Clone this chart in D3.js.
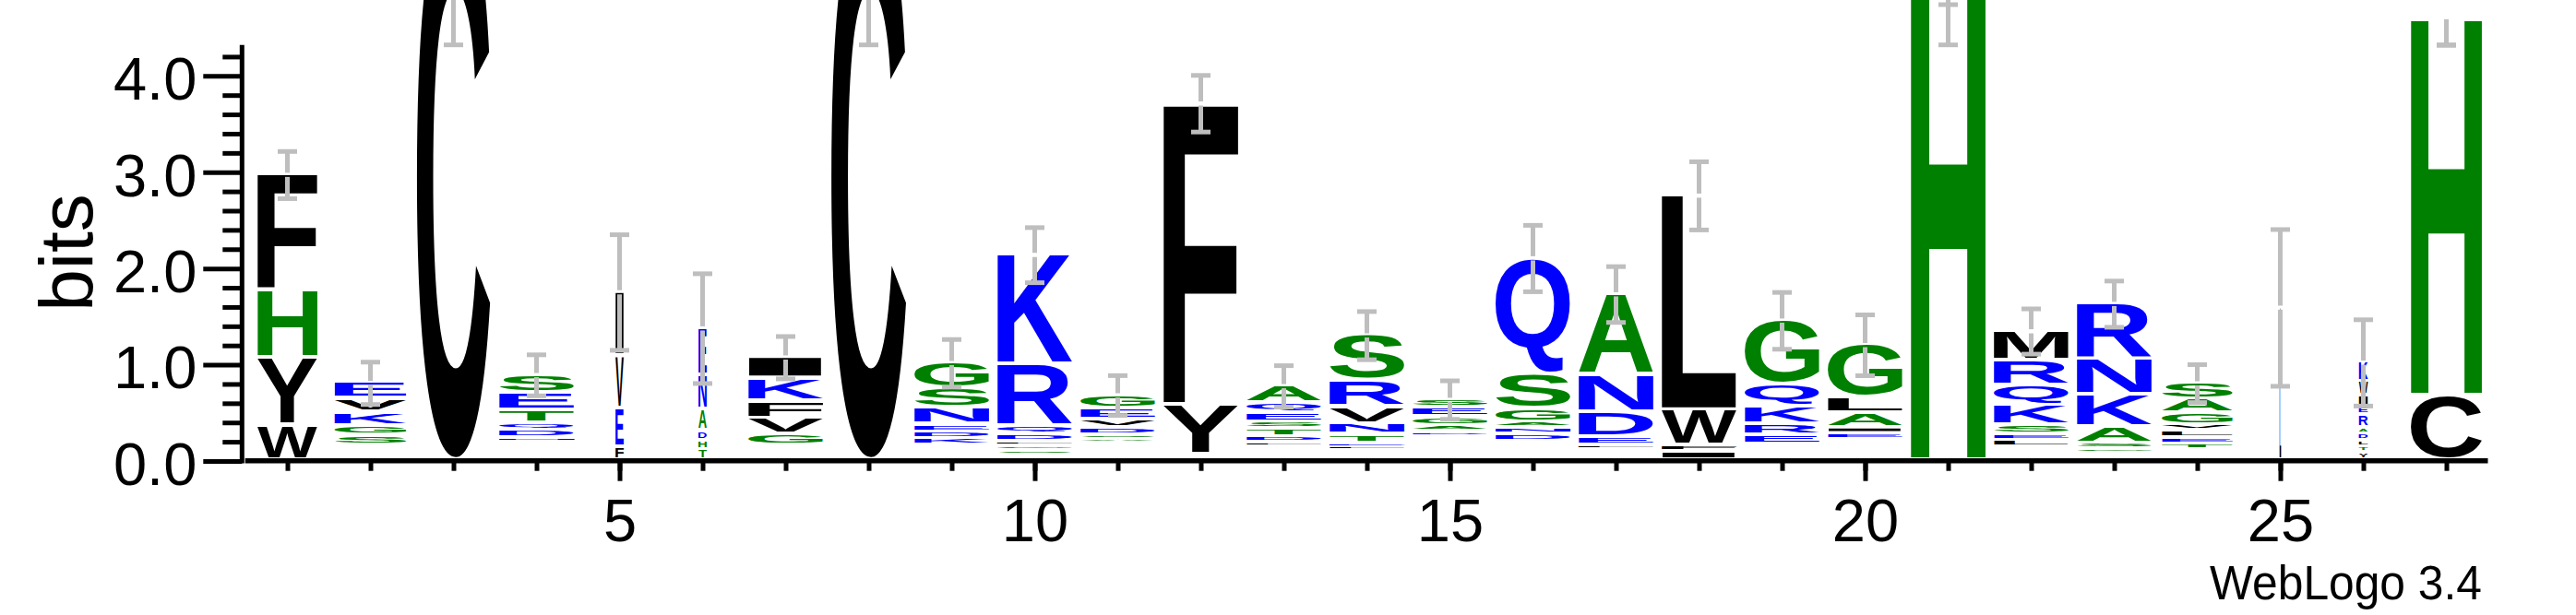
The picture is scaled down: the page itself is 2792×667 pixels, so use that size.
<!DOCTYPE html>
<html>
<head>
<meta charset="utf-8">
<script src="https://cdn.jsdelivr.net/npm/d3@7"></script>
<style>
body { margin: 0; background: #fff; }
text { font-family: "Liberation Sans", Arial, Helvetica, sans-serif; }
</style>
</head>
<body>
<svg id="logo" width="2792" height="667"></svg>
<script>
// sequence positions 1..27
var positions = d3.range(1, 28);

// letters of each stack, read top to bottom
var stackLetters = ["FHYW", "EVKGS", "C", "SETQDN", "IVEF", "ENADHT", "IKFVG", "C",
  "GSNEDK", "KRQDLGS", "GEVDSA", "FY", "AQESTDL", "SRVNTEL", "SEGAD", "QSGAND",
  "ANDEL", "LWFI", "GQKRE", "GLAIE", "H", "MRQKSEL", "RNKASG", "SAGVLET", "GL",
  "KWIERADLTY", "HC"];

// height of each letter in bits (same order)
var stackBits = [
  [1.21, 0.70, 0.70, 0.36],
  [0.17, 0.14, 0.14, 0.096, 0.105],
  [5.82],
  [0.19, 0.185, 0.135, 0.065, 0.085, 0.04],
  [0.67, 0.54, 0.41, 0.13],
  [0.49, 0.36, 0.22, 0.10, 0.10, 0.105],
  [0.224, 0.236, 0.178, 0.167, 0.115],
  [5.82],
  [0.273, 0.196, 0.176, 0.079, 0.069, 0.069],
  [1.146, 0.638, 0.09, 0.07, 0.048, 0.055, 0.048],
  [0.144, 0.112, 0.089, 0.074, 0.038, 0.048],
  [3.137, 0.517],
  [0.182, 0.102, 0.096, 0.074, 0.08, 0.057, 0.04],
  [0.479, 0.271, 0.176, 0.111, 0.09, 0.034, 0.045],
  [0.089, 0.096, 0.09, 0.063, 0.055],
  [1.213, 0.36, 0.138, 0.057, 0.067, 0.074],
  [0.843, 0.388, 0.263, 0.08, 0.05],
  [2.234, 0.367, 0.067, 0.086],
  [0.672, 0.224, 0.19, 0.11, 0.10],
  [0.551, 0.163, 0.15, 0.065, 0.058],
  [5.14],
  [0.306, 0.263, 0.205, 0.204, 0.099, 0.064, 0.07],
  [0.582, 0.368, 0.333, 0.174, 0.057, 0.048],
  [0.172, 0.144, 0.122, 0.06, 0.077, 0.067, 0.057],
  [0.795, 0.795],
  [0.205, 0.144, 0.112, 0.086, 0.137, 0.064, 0.07, 0.067, 0.06, 0.074],
  [3.937, 0.67]
];

// bits taken by the many tiny letters at the foot of a stack (too small to see)
var blankBits = [0, 0.156, 0, 0.19, 0, 0, 0.153, 0, 0.153, 0.043, 0.175, 0.057, 0.144,
  0.096, 0.24, 0.194, 0.105, 0, 0.16, 0.215, 0, 0.134, 0.067, 0.105, 0, 0, 0];

// stack width as fraction of the full column (share of non-gap sequences)
var widthFrac = [0.80, 0.96, 0.98, 1, 0.11, 0.11, 1, 1, 1, 1, 1, 1, 1, 1, 1, 1,
  1, 1, 1, 1, 1, 1, 1, 0.95, 0.02, 0.12, 0.95];

// error bar half lengths in bits
var errDown = [0.245, 0.22, 0.45, 0.213, 0.60, 0.57, 0.22, 0.45, 0.247, 0.286, 0.207,
  0.294, 0.215, 0.25, 0.2, 0.345, 0.29, 0.354, 0.295, 0.316, 0.4, 0.235, 0.24, 0.197,
  0.814, 0.448, 0.29];
var errUp = errDown.slice();

var yTickValues = [0, 1, 2, 3, 4];
var xTickLabels = [5, 10, 15, 20, 25];
var yMax = Math.log2(20);

var colour = {};
"CFILMPVWY".split("").forEach(function(c) { colour[c] = "#000000" });
"AGHST".split("").forEach(function(c) { colour[c] = "#008000" });
"DEKNQR".split("").forEach(function(c) { colour[c] = "#0000ff" });

var svg = d3.select("#logo");
var x = d3.scaleLinear().domain([0.5, 27.5]).range([266.5, 2696.5]);
var y = d3.scaleLinear().domain([0, 4]).range([500, 82.3]);
var colWidth = 81, letterGap = 4, barGrey = "#bebebe";

// tight ink box of each glyph, so a letter can be stretched to fill its box
var FS = 200;
var ctx = document.createElement("canvas").getContext("2d");
ctx.font = "bold " + FS + "px 'Liberation Sans', Arial, sans-serif";
var inkCache = {};
function ink(ch) {
  if (!inkCache[ch]) {
    var m = ctx.measureText(ch);
    inkCache[ch] = {l: m.actualBoundingBoxLeft, r: m.actualBoundingBoxRight,
                    a: m.actualBoundingBoxAscent, d: m.actualBoundingBoxDescent};
  }
  return inkCache[ch];
}

var stacks = svg.append("g").attr("class", "stacks");

positions.forEach(function(p, i) {
  var cx = x(p), w = colWidth * widthFrac[i];
  var letters = stackLetters[i].split("");
  var base = blankBits[i];
  for (var j = letters.length - 1; j >= 0; j--) {
    var ch = letters[j], hi = base + stackBits[i][j];
    var yTop = y(hi), yBot = y(base);
    var inkH = Math.max(yBot - yTop - letterGap, 1);
    var g = ink(ch);
    var sx = w / (g.l + g.r), sy = inkH / (g.a + g.d);
    stacks.append("text")
      .attr("transform", "translate(" + (cx - w / 2 + g.l * sx) + "," + (yTop + inkH - g.d * sy) +
            ") scale(" + sx + "," + sy + ")")
      .style("font-size", FS + "px")
      .style("font-weight", "bold")
      .style("fill", colour[ch])
      .text(ch);
    base = hi;
  }
});

// error bars
var bars = svg.append("g").attr("class", "errorbars");
positions.forEach(function(p, i) {
  var cx = x(p);
  var centre = d3.sum(stackBits[i]) + blankBits[i];
  var ends = [Math.min(centre + errUp[i], yMax), centre - errDown[i]];
  ends.forEach(function(e) {
    var yc = y(centre), ye = y(e);
    var start = ye < yc ? yc - 2.5 : yc + 2;
    bars.append("line")
      .attr("x1", cx).attr("x2", cx).attr("y1", start).attr("y2", ye)
      .style("stroke", barGrey).style("stroke-width", 5);
    bars.append("line")
      .attr("x1", cx - 10.5).attr("x2", cx + 10.5).attr("y1", ye).attr("y2", ye)
      .style("stroke", barGrey).style("stroke-width", 5);
  });
});

// y axis
var yAxisMajor = svg.append("g").attr("transform", "translate(262.3,0)")
  .call(d3.axisLeft(y).tickValues(yTickValues).tickSize(42).tickPadding(7)
        .tickFormat(d3.format(".1f")));
var yAxisMinor = svg.append("g").attr("transform", "translate(262.3,0)")
  .call(d3.axisLeft(y).tickValues(d3.range(0.2, 4.3, 0.2).filter(function(v) {
      return Math.abs(v - Math.round(v)) > 0.01 })).tickSize(21).tickFormat(""));
[yAxisMajor, yAxisMinor].forEach(function(a) {
  a.select(".domain").remove();
  a.selectAll(".tick line").style("stroke", "#000").style("stroke-width", 5);
});
yAxisMajor.selectAll(".tick text")
  .attr("dy", "0.39em")
  .style("font-size", "65px")
  .style("font-family", "'Liberation Sans', Arial, sans-serif")
  .style("fill", "#000");
svg.append("line")
  .attr("x1", 262.3).attr("x2", 262.3).attr("y1", y(yMax)).attr("y2", 502.5)
  .style("stroke", "#000").style("stroke-width", 5);

// x axis
var xAxisMinor = svg.append("g").attr("transform", "translate(0,500)")
  .call(d3.axisBottom(x).tickValues(positions).tickSize(10.7).tickFormat(""));
var xAxisMajor = svg.append("g").attr("transform", "translate(0,500)")
  .call(d3.axisBottom(x).tickValues(xTickLabels).tickSize(21.7).tickPadding(19));
[xAxisMinor, xAxisMajor].forEach(function(a) {
  a.select(".domain").remove();
  a.selectAll(".tick line").style("stroke", "#000").style("stroke-width", 5);
});
xAxisMajor.selectAll(".tick text")
  .style("font-size", "65px")
  .style("font-family", "'Liberation Sans', Arial, sans-serif")
  .style("fill", "#000");
svg.append("line")
  .attr("x1", 265.7).attr("x2", 2696.5).attr("y1", 499.7).attr("y2", 499.7)
  .style("stroke", "#000").style("stroke-width", 5.5);

// axis title
svg.append("text")
  .attr("transform", "translate(100,274) rotate(-90)")
  .attr("text-anchor", "middle")
  .style("font-size", "82px")
  .text("bits");

// credit
svg.append("text")
  .attr("x", 2395).attr("y", 650)
  .attr("textLength", 295).attr("lengthAdjust", "spacingAndGlyphs")
  .style("font-size", "51px")
  .text("WebLogo 3.4");
</script>
</body>
</html>
